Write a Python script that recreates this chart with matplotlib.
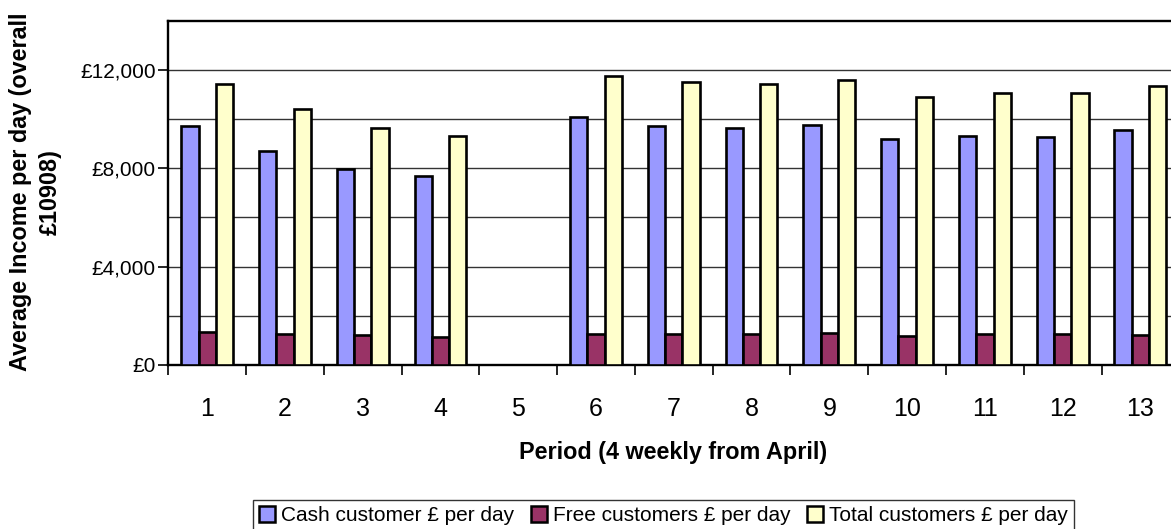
import matplotlib
matplotlib.use("Agg")
import matplotlib.pyplot as plt
import numpy as np
from matplotlib.ticker import FixedLocator, FuncFormatter
from matplotlib.patches import Patch

plt.rcParams['font.family'] = ['Liberation Sans', 'DejaVu Sans']

periods = ["1", "2", "3", "4", "5", "6", "7", "8", "9", "10", "11", "12", "13"]
cash = [9700, 8720, 7960, 7700, 0, 10080, 9710, 9630, 9750, 9190, 9330, 9280, 9560]
free = [1330, 1260, 1210, 1150, 0, 1250, 1270, 1250, 1290, 1170, 1250, 1250, 1220]
total = [11430, 10410, 9640, 9320, 0, 11770, 11500, 11420, 11580, 10900, 11070, 11070, 11340]
series_names = ["Cash customer £ per day", "Free customers £ per day", "Total customers £ per day"]
colors = ["#9999FF", "#993366", "#FFFFCC"]

W, H = 1171, 529
fig = plt.figure(figsize=(W / 100, H / 100), dpi=100)
ax = fig.add_axes([168.3 / W, (H - 365) / H, 1011 / W, 344.3 / H])

x = np.arange(len(periods))
bw = 1 / 4.5
for i, (vals, c) in enumerate(zip([cash, free, total], colors)):
    ax.bar(x + (i - 1) * bw, vals, width=bw, color=c, edgecolor="black",
           linewidth=1.9, zorder=3)

ax.set_xlim(-0.5, len(periods) - 0.5)
ax.set_ylim(0, 14000)

# y axis
ax.yaxis.set_major_locator(FixedLocator([0, 4000, 8000, 12000]))
ax.yaxis.set_major_formatter(FuncFormatter(lambda v, p: "£{:,.0f}".format(v)))
ax.yaxis.set_minor_locator(FixedLocator(np.arange(2000, 14000, 4000)))
ax.tick_params(axis="y", which="major", direction="out", length=7, width=1.2,
               labelsize=15, pad=2)
ax.tick_params(axis="y", which="minor", length=0)
ax.grid(True, axis="y", which="both", color="#333333", linewidth=1.0, zorder=0)

# x axis
ax.xaxis.set_major_locator(FixedLocator(np.arange(-0.5, len(periods), 1.0)))
ax.xaxis.set_major_formatter(FuncFormatter(lambda v, p: ""))
ax.xaxis.set_minor_locator(FixedLocator(x))
ax.set_xticks(x, periods, minor=True)
ax.tick_params(axis="x", which="major", direction="out", length=7, width=1.2)
ax.tick_params(axis="x", which="minor", length=0, labelsize=18, pad=23)

for s in ["left", "bottom", "top", "right"]:
    ax.spines[s].set_linewidth(1.7)
    ax.spines[s].set_color("black")
ax.set_axisbelow(True)

fig.text(35.5 / W, 1 - 192 / H, "Average Income per day (overall\n£10908)",
         rotation=90, ha="center", va="center", fontsize=16.8, fontweight="bold",
         multialignment="center", linespacing=1.4)
fig.text(673 / W, 1 - 453 / H, "Period (4 weekly from April)", ha="center",
         va="center", fontsize=16.8, fontweight="bold")

handles = [Patch(facecolor=c, edgecolor="black", linewidth=1.8) for c in colors]
leg = fig.legend(handles, series_names, loc="upper center",
                 bbox_to_anchor=(663.5 / W, 1 - 500 / H), ncol=3, fontsize=15,
                 frameon=True, fancybox=False, shadow=False, handlelength=0.75,
                 handleheight=0.75, handletextpad=0.3, columnspacing=0.8,
                 borderpad=0.3, borderaxespad=0)
leg.get_frame().set_edgecolor("black")
leg.get_frame().set_linewidth(1.0)

fig.savefig("out.png", dpi=100)
